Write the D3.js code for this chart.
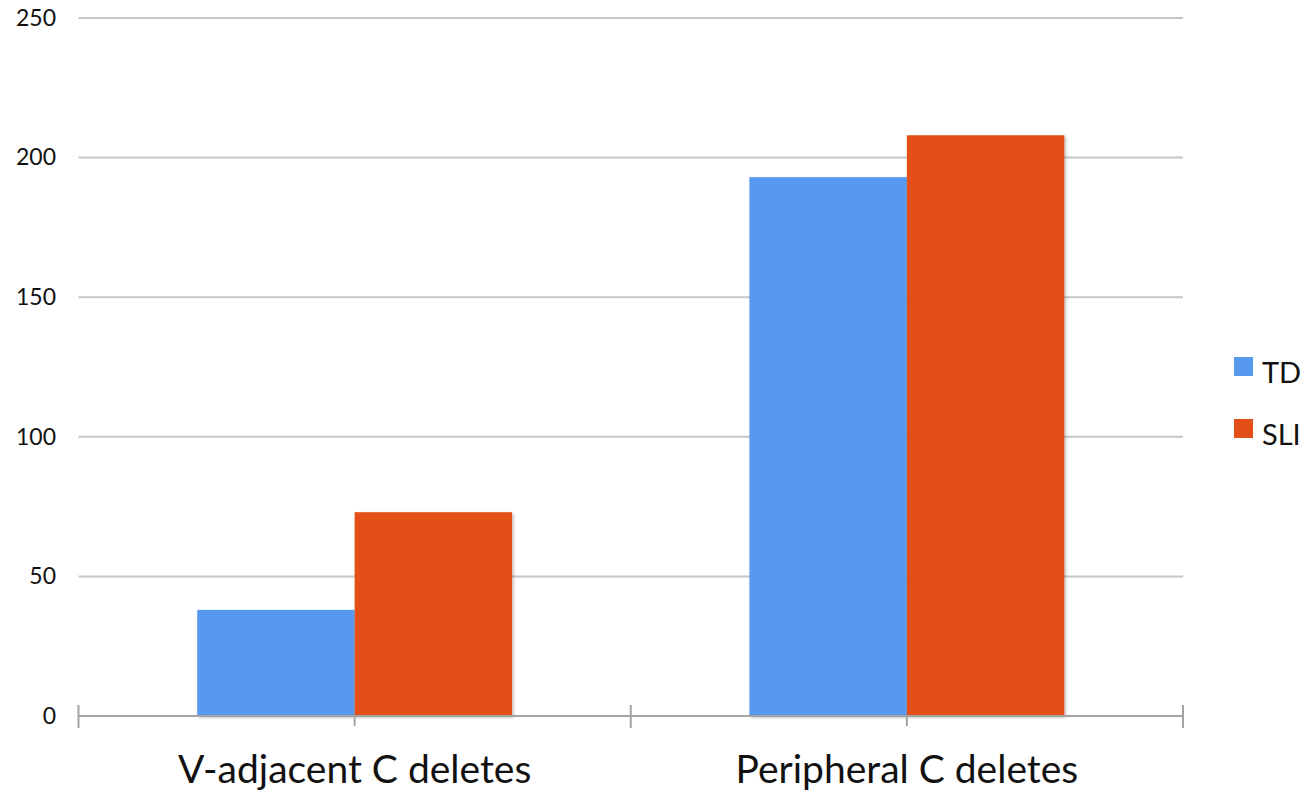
<!DOCTYPE html>
<html>
<head>
<meta charset="utf-8">
<script src="https://cdn.jsdelivr.net/npm/d3@7"></script>
<style>
  html, body { margin: 0; padding: 0; background: #fff; }
  svg { display: block; font-family: "Lato", "Open Sans", sans-serif; }
</style>
</head>
<body>
<svg id="chart" width="1305" height="793"></svg>
<script>
// Deletion counts by position, per group
const categories = ["V-adjacent C deletes", "Peripheral C deletes"];
const seriesNames = ["TD", "SLI"];
const tdValues = [38, 193];
const sliValues = [73, 208];
const yTicks = [0, 50, 100, 150, 200, 250];
const colors = { TD: "#5699EE", SLI: "#E35017" };

const rows = categories.map((c, i) => ({ category: c, TD: tdValues[i], SLI: sliValues[i] }));

const svg = d3.select("#chart");
const plot = { left: 78.5, right: 1183, top: 18, bottom: 716 };

const x = d3.scaleBand().domain(categories).range([plot.left, plot.right]).padding(0);
const xs = d3.scaleBand().domain(seriesNames).range([0, x.bandwidth()]).paddingInner(0).paddingOuter(0.754);
const y = d3.scaleLinear().domain([0, 250]).range([plot.bottom, plot.top]);

// soft shadow under the bars
const defs = svg.append("defs");
const f = defs.append("filter").attr("id", "shadow").attr("x", "-10%").attr("y", "-10%").attr("width", "120%").attr("height", "120%");
f.append("feDropShadow").attr("dx", 1.5).attr("dy", 1.5).attr("stdDeviation", 1.5)
  .attr("flood-color", "#000").attr("flood-opacity", 0.28);

// horizontal gridlines
svg.append("g")
  .selectAll("line")
  .data(yTicks.filter(t => t > 0))
  .join("line")
  .attr("x1", plot.left).attr("x2", plot.right)
  .attr("y1", d => y(d)).attr("y2", d => y(d))
  .attr("stroke", "#C6C6C6").attr("stroke-width", 2);

// y tick labels
svg.append("g")
  .selectAll("text")
  .data(yTicks)
  .join("text")
  .attr("x", 56).attr("y", d => y(d) + 2)
  .attr("text-anchor", "end").attr("dominant-baseline", "middle")
  .attr("font-size", 23).attr("fill", "#111")
  .text(d => d);

// bars
const groups = svg.append("g")
  .selectAll("g")
  .data(rows)
  .join("g")
  .attr("transform", d => `translate(${x(d.category)},0)`);

groups.selectAll("rect")
  .data(d => seriesNames.map(s => ({ s, v: d[s] })))
  .join("rect")
  .attr("x", d => xs(d.s))
  .attr("width", xs.bandwidth())
  .attr("y", d => y(d.v))
  .attr("height", d => y(0) - y(d.v))
  .attr("fill", d => colors[d.s])
  .attr("filter", "url(#shadow)");

// baseline axis with tick marks
const axis = svg.append("g");
axis.append("line")
  .attr("x1", plot.left).attr("x2", plot.right)
  .attr("y1", y(0)).attr("y2", y(0))
  .attr("stroke", "#A3A3A3").attr("stroke-width", 2);

const boundaries = categories.map(c => x(c)).concat([plot.right]);
axis.selectAll("line.bound")
  .data(boundaries)
  .join("line").attr("class", "bound")
  .attr("x1", d => d).attr("x2", d => d)
  .attr("y1", y(0) - 11).attr("y2", y(0) + 12)
  .attr("stroke", "#A3A3A3").attr("stroke-width", 2);

axis.selectAll("line.mid")
  .data(categories)
  .join("line").attr("class", "mid")
  .attr("x1", d => x(d) + x.bandwidth() / 2).attr("x2", d => x(d) + x.bandwidth() / 2)
  .attr("y1", y(0)).attr("y2", y(0) + 10)
  .attr("stroke", "#A3A3A3").attr("stroke-width", 2);

// category labels
svg.append("g")
  .selectAll("text")
  .data(categories)
  .join("text")
  .attr("x", d => x(d) + x.bandwidth() / 2)
  .attr("y", 783)
  .attr("text-anchor", "middle")
  .attr("font-size", 39).attr("fill", "#111")
  .text(d => d);

// legend
const legend = svg.append("g")
  .selectAll("g")
  .data(seriesNames)
  .join("g")
  .attr("transform", (d, i) => `translate(1234,${357 + i * 62})`);

legend.append("rect")
  .attr("width", 19).attr("height", 19)
  .attr("fill", d => colors[d]);

legend.append("text")
  .attr("x", 28).attr("y", 26)
  .attr("font-size", 29).attr("fill", "#111")
  .text(d => d);
</script>
</body>
</html>
